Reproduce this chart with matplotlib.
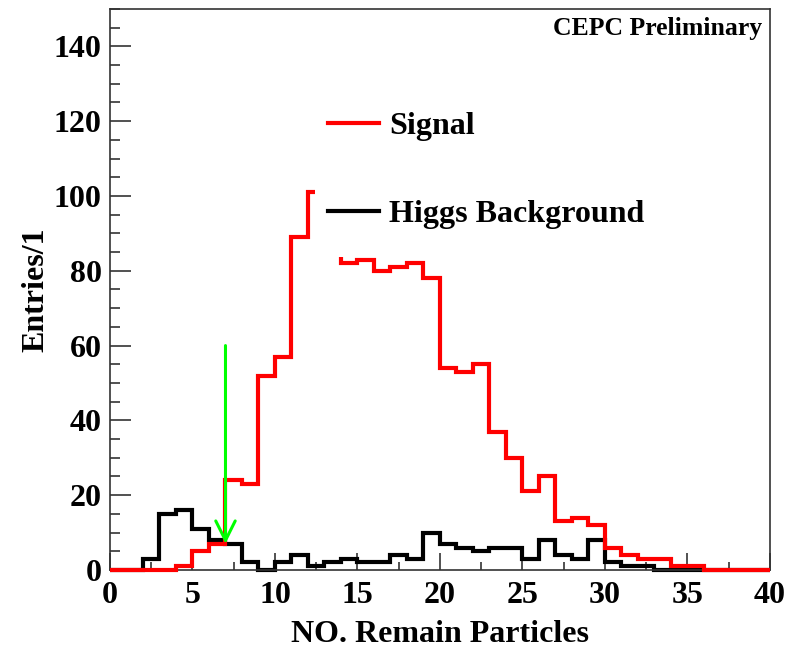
import numpy as np
import matplotlib.pyplot as plt
from matplotlib.patches import Rectangle
from matplotlib.lines import Line2D
from matplotlib.ticker import MultipleLocator

# Number of remaining particles, one bin per integer from 0 to 40
edges = np.arange(0, 41)
signal = [0, 0, 0, 0, 1, 5, 7, 24, 23, 52,
          57, 89, 101, 95, 82, 83, 80, 81, 82, 78,
          54, 53, 55, 37, 30, 21, 25, 13, 14, 12,
          6, 4, 3, 3, 1, 1, 0, 0, 0, 0]
higgs_bkg = [0, 0, 3, 15, 16, 11, 8, 7, 2, 0,
             2, 4, 1, 2, 3, 2, 2, 4, 3, 10,
             7, 6, 5, 6, 6, 3, 8, 4, 3, 8,
             2, 1, 1, 0, 0, 0, 0, 0, 0, 0]

# cut marker
cut_x = 7
arrow_top = 60
arrow_tip = 7

plt.rcParams['font.family'] = ['Liberation Serif', 'DejaVu Serif']
plt.rcParams['font.weight'] = 'bold'

fig = plt.figure(figsize=(7.89, 6.52), dpi=100)
ax = fig.add_axes([0.1394, 0.1258, 0.8365, 0.8604])

ax.stairs(higgs_bkg, edges, color='black', lw=3, zorder=2, clip_on=False)
ax.stairs(signal, edges, color='#ff0000', lw=3, zorder=3, clip_on=False)

ax.annotate('', xy=(cut_x, arrow_tip), xytext=(cut_x, arrow_top),
            arrowprops=dict(arrowstyle='->', color='#00ff00', lw=2.2, mutation_scale=35,
                            shrinkA=0, shrinkB=0), zorder=4)

ax.set_xlim(0, 40)
ax.set_ylim(0, 150)

ax.xaxis.set_major_locator(MultipleLocator(5))
ax.xaxis.set_minor_locator(MultipleLocator(2.5))
ax.yaxis.set_major_locator(MultipleLocator(20))
ax.yaxis.set_minor_locator(MultipleLocator(5))
ax.tick_params(which='both', direction='in', color='#333333', width=1.2,
               top=False, right=False, labelsize=23)
ax.tick_params(axis='x', which='major', length=12, pad=8)
ax.tick_params(axis='x', which='minor', length=6)
ax.tick_params(axis='y', which='major', length=15, pad=6)
ax.tick_params(axis='y', which='minor', length=7.5)
for s in ax.spines.values():
    s.set_color('#333333')
    s.set_linewidth(1.2)

ax.set_xlabel('NO. Remain Particles', fontsize=23, fontweight='bold')
ax.set_ylabel('Entries/1', fontsize=23, fontweight='bold')
ax.xaxis.set_label_coords(0.5, -0.09)
ax.yaxis.set_label_coords(-0.09, 0.5)

# white legend pad hides the histograms behind the labels
ax.add_patch(Rectangle((0.3106, 0.558), 0.62, 0.31, transform=ax.transAxes,
                       facecolor='white', edgecolor='none', zorder=5))
leg_handles = [Line2D([], [], color='#ff0000', lw=3), Line2D([], [], color='black', lw=3)]
leg = ax.legend(leg_handles, ['Signal', 'Higgs Background'], loc='upper left',
                bbox_to_anchor=(0.330, 0.817), frameon=False, fontsize=23,
                handlelength=1.6, handletextpad=0.33, labelspacing=1.83,
                borderpad=0, borderaxespad=0)
leg.set_zorder(6)

ax.text(0.988, 0.966, 'CEPC Preliminary', transform=ax.transAxes,
        ha='right', va='center', fontsize=18.5, fontweight='bold')

fig.savefig('out.png', dpi=100)
